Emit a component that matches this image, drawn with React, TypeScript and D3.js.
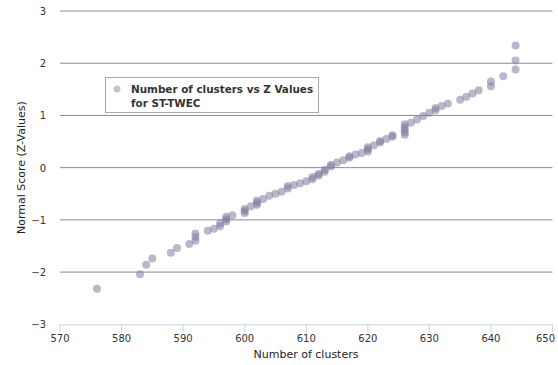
import React from 'react';
import * as d3 from 'd3';

// number of clusters (x) and normal score (y)
const clusters = [
  576, 583, 584, 585, 588, 589, 591, 592, 592, 592, 594, 595, 596, 596, 597, 597, 597, 598,
  600, 600, 600, 601, 602, 602, 602, 603, 604, 605, 606, 607, 607, 608, 609, 610, 611, 611,
  612, 612, 613, 613, 614, 614, 615, 616, 617, 617, 618, 619, 620, 620, 620, 621, 622, 622,
  623, 624, 624, 626, 626, 626, 626, 626, 627, 628, 629, 630, 631, 631, 632, 633, 635, 636,
  637, 638, 640, 640, 642, 644, 644, 644,
];
const zValues = [
  -2.32, -2.04, -1.86, -1.74, -1.63, -1.54, -1.46, -1.40, -1.33, -1.26, -1.21, -1.17, -1.12,
  -1.07, -1.03, -0.99, -0.94, -0.91, -0.87, -0.83, -0.79, -0.74, -0.71, -0.67, -0.63, -0.6,
  -0.54, -0.5, -0.46, -0.4, -0.35, -0.33, -0.3, -0.26, -0.22, -0.18, -0.15, -0.12, -0.08,
  -0.04, 0.02, 0.05, 0.1, 0.14, 0.19, 0.22, 0.25, 0.28, 0.31, 0.35, 0.39, 0.43, 0.48, 0.51,
  0.55, 0.59, 0.62, 0.63, 0.68, 0.73, 0.78, 0.83, 0.86, 0.92, 0.99, 1.05, 1.1, 1.14, 1.18,
  1.23, 1.3, 1.36, 1.42, 1.48, 1.56, 1.65, 1.75, 1.88, 2.05, 2.34,
];
const xTicks = [570, 580, 590, 600, 610, 620, 630, 640, 650];
const yTicks = [-3, -2, -1, 0, 1, 2, 3];
const seriesName = ['Number of clusters vs Z Values', 'for ST-TWEC'];

const W = 558;
const H = 365;
const FONT = '"DejaVu Sans", Verdana, sans-serif';

export default function App() {
  const x = d3.scaleLinear().domain([570, 650]).range([60, 552.5]);
  const y = d3.scaleLinear().domain([-3, 3]).range([324.3, 11]);
  const fmt = (v: number) => (v < 0 ? '\u2212' + Math.abs(v) : String(v));
  const last = xTicks[xTicks.length - 1];

  return (
    <svg
      width={W}
      height={H}
      style={{ position: 'absolute', left: 0, top: 0, background: '#fff' }}
      fontFamily={FONT}
    >
      {/* grid */}
      {yTicks.slice(1).map(t => (
        <line key={t} x1={60} x2={552.5} y1={y(t)} y2={y(t)} stroke="#8a8a8a" strokeWidth={1} />
      ))}
      {yTicks.map(t => (
        <text key={t} x={46} y={y(t) + 4} textAnchor="end" fontSize={10} fill="#333">
          {fmt(t)}
        </text>
      ))}

      {/* x axis */}
      <line x1={60} x2={552.5} y1={y(-3) + 0.5} y2={y(-3) + 0.5} stroke="#c8d5e8" strokeWidth={1} />
      {xTicks.map(t => (
        <g key={t}>
          <line x1={x(t)} x2={x(t)} y1={y(-3)} y2={y(-3) + 8} stroke="#c8d5e8" strokeWidth={1} />
          <text
            x={t === last ? 555 : x(t)}
            y={y(-3) + 18}
            textAnchor={t === last ? 'end' : 'middle'}
            fontSize={10}
            fill="#333"
          >
            {t}
          </text>
        </g>
      ))}
      <text x={306} y={358} textAnchor="middle" fontSize={11} fill="#222">
        Number of clusters
      </text>
      <text
        transform={`translate(25,${y(0)}) rotate(-90)`}
        textAnchor="middle"
        fontSize={11}
        fill="#222"
      >
        Normal Score (Z-Values)
      </text>

      {/* points */}
      {clusters.map((c, i) => (
        <circle key={i} cx={x(c)} cy={y(zValues[i])} r={4} fill="rgb(128,124,160)" fillOpacity={0.55} />
      ))}

      {/* legend */}
      <rect x={105.5} y={77.5} width={213} height={35} fill="#fff" stroke="#aaa" strokeWidth={1} />
      <circle cx={117} cy={89} r={3.5} fill="#c3c1d3" />
      <text x={131} y={93} fontSize={10.4} fontWeight="bold" fill="#333">
        {seriesName[0]}
      </text>
      <text x={131} y={107} fontSize={10.4} fontWeight="bold" fill="#333">
        {seriesName[1]}
      </text>
    </svg>
  );
}
